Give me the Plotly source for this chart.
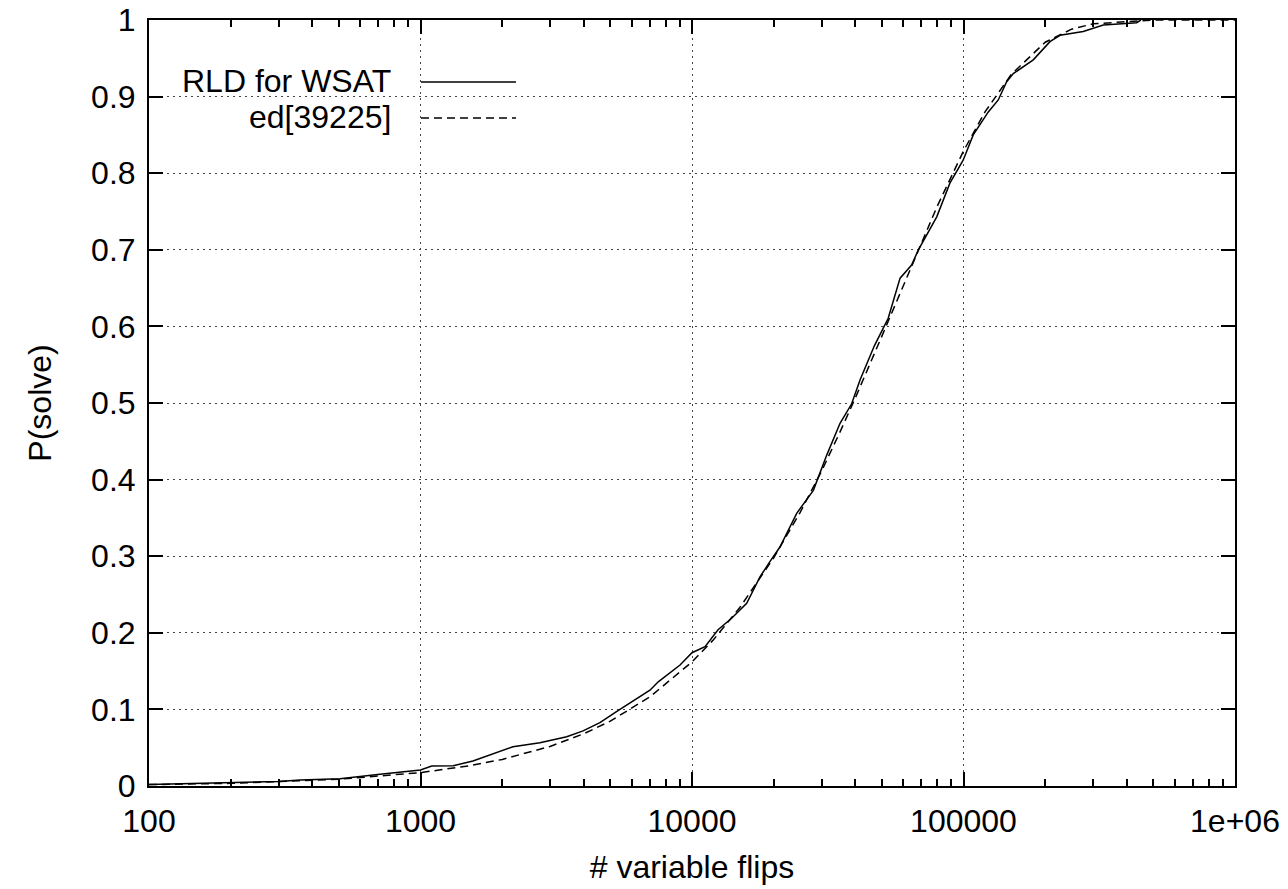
import plotly.graph_objects as go

# ---- data ----
wsat_flips = [100, 200, 300, 360, 505, 709, 1000, 1100, 1320, 1560, 1755, 2190, 2754, 3456,
              3970, 4580, 5270, 6250, 7000, 7510, 9036, 10000, 11170, 12470, 14000, 15900,
              17800, 19360, 21080, 24300, 27990, 31350, 35100, 38730, 41580, 47000, 52800,
              58400, 64400, 68200, 79700, 89100, 99700, 108600, 123400, 134300, 144200,
              152500, 180700, 208200, 226700, 276100, 327200, 434300, 450000]
wsat_p = [0.002, 0.004, 0.006, 0.0078, 0.0096, 0.0152, 0.021, 0.026, 0.0265, 0.0326, 0.039,
          0.0513, 0.0565, 0.0644, 0.072, 0.0827, 0.097, 0.1144, 0.125, 0.136, 0.158, 0.174,
          0.182, 0.204, 0.219, 0.2385, 0.273, 0.293, 0.312, 0.356, 0.386, 0.432, 0.4735,
          0.499, 0.530, 0.575, 0.6106, 0.663, 0.680, 0.700, 0.743, 0.787, 0.817, 0.850,
          0.880, 0.8956, 0.9195, 0.930, 0.948, 0.9717, 0.980, 0.985, 0.9935, 0.9965, 1.0]

ed_flips = [100, 200, 500, 1000, 1500, 2000, 3000, 4000, 5000, 7000, 10000, 12000, 15000,
            20000, 25000, 30000, 35000, 40000, 50000, 60000, 70000, 80000, 100000, 120000,
            150000, 200000, 250000, 300000, 500000, 1000000]
ed_p = [0.0018, 0.0035, 0.0088, 0.0175, 0.0262, 0.0347, 0.0516, 0.0683, 0.0846, 0.1164,
        0.162, 0.191, 0.233, 0.298, 0.357, 0.411, 0.4613, 0.507, 0.587, 0.6537, 0.710,
        0.7568, 0.829, 0.880, 0.929, 0.971, 0.988, 0.995, 1.0, 1.0]

x_tickvals = [100, 1000, 10000, 100000, 1000000]
x_ticktext = ["100", "1000", "10000", "100000", "1e+06"]
y_tickvals = [0, 0.1, 0.2, 0.3, 0.4, 0.5, 0.6, 0.7, 0.8, 0.9, 1]
y_ticktext = ["0", "0.1", "0.2", "0.3", "0.4", "0.5", "0.6", "0.7", "0.8", "0.9", "1"]

series_names = ["RLD for WSAT", "ed[39225]"]

FONT = "Liberation Sans, Arial, Helvetica, sans-serif"
FS = 32

fig = go.Figure()
fig.add_trace(go.Scatter(x=wsat_flips, y=wsat_p, mode="lines", name=series_names[0],
                         line=dict(color="black", width=1.5), showlegend=False))
fig.add_trace(go.Scatter(x=ed_flips, y=ed_p, mode="lines", name=series_names[1],
                         line=dict(color="black", width=1.5, dash="8px,5px"),
                         showlegend=False))

minor_x = [m * 10 ** e for e in range(2, 6) for m in range(2, 10)]

fig.update_xaxes(
    type="log", range=[2, 6], automargin=False,
    tickmode="array", tickvals=x_tickvals, ticktext=x_ticktext,
    ticks="inside", ticklen=14, tickwidth=2, tickcolor="black",
    minor=dict(tickmode="array", tickvals=minor_x, ticks="inside", ticklen=7,
               tickwidth=2, tickcolor="black", showgrid=False),
    showline=True, linecolor="black", linewidth=2, mirror="ticks",
    showgrid=True, gridcolor="#444444", gridwidth=1, griddash="2px,4px",
    zeroline=False, ticklabelstandoff=6, ticklabeloverflow="allow",
    title=dict(text="# variable flips", standoff=17, font=dict(size=FS, family=FONT, color="black")),
    tickfont=dict(size=FS, family=FONT, color="black"),
)
fig.update_yaxes(
    range=[0, 1], automargin=False,
    tickmode="array", tickvals=y_tickvals, ticktext=y_ticktext,
    ticks="inside", ticklen=14, tickwidth=2, tickcolor="black",
    showline=True, linecolor="black", linewidth=2, mirror="ticks",
    showgrid=True, gridcolor="#444444", gridwidth=1, griddash="2px,4px",
    zeroline=False, ticklabelstandoff=5, ticklabeloverflow="allow",
    title=dict(text="P(solve)", standoff=30, font=dict(size=FS, family=FONT, color="black")),
    tickfont=dict(size=FS, family=FONT, color="black"),
)

# plot area in page pixels (body margin removed below)
L, T, W, H = 149, 20, 1086, 766
FW, FH = 1288, 889

# gnuplot-style key (text left, sample right) with opaque white background
def px2paper(px, py):
    return (px - L) / W, (T + H - py) / H

bx0, by0 = px2paper(151, 136)
bx1, by1 = px2paper(537, 70)
fig.add_shape(type="rect", xref="paper", yref="paper", x0=bx0, x1=bx1, y0=by0, y1=by1,
              fillcolor="white", line=dict(width=0), layer="between")
for i, (py, dash) in enumerate([(82, "solid"), (118, "8px,5px")]):
    lx0, ly = px2paper(421, py)
    lx1, _ = px2paper(516, py)
    fig.add_shape(type="line", xref="paper", yref="paper", x0=lx0, x1=lx1, y0=ly, y1=ly,
                  line=dict(color="black", width=1.5, dash=dash), layer="above")
    tx, ty = px2paper(393, py - 1)
    fig.add_annotation(x=tx, y=ty, xref="paper", yref="paper", text=series_names[i],
                       showarrow=False, xanchor="right", yanchor="middle",
                       font=dict(size=FS, family=FONT, color="black"))

fig.update_layout(
    width=FW, height=FH,
    margin=dict(l=L, r=FW - L - W, t=T, b=FH - T - H, pad=0, autoexpand=False),
    paper_bgcolor="white", plot_bgcolor="white",
    font=dict(family=FONT, size=FS, color="black"),
    showlegend=False,
)

fig.write_html("out.html",
               config={"displayModeBar": False},
               post_script="document.body.style.margin='0';document.body.style.overflow='hidden';")
